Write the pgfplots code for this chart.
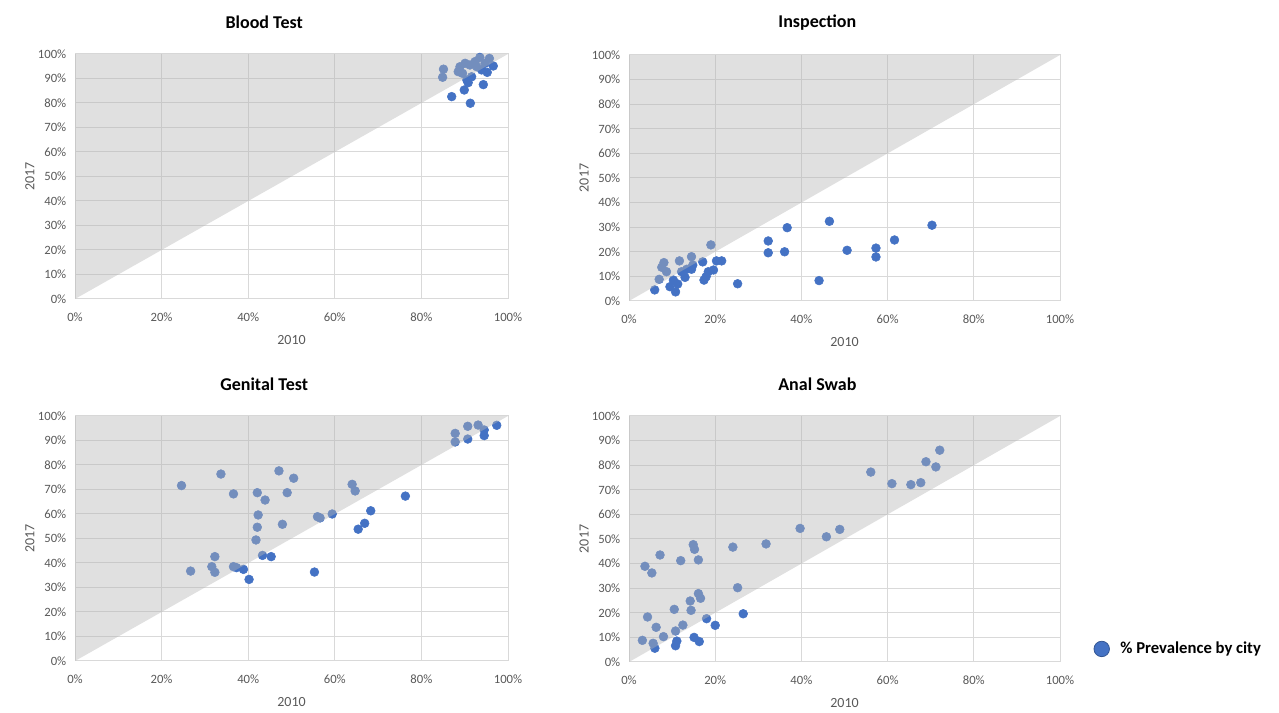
\documentclass[border=0pt]{standalone}
\usepackage{pgfplots}
\pgfplotsset{compat=1.18}
\usepackage{pgfplotstable}
\usepackage{fontspec}
\setmainfont{Carlito}
\definecolor{ptblue}{HTML}{4472C4}
\definecolor{shade}{RGB}{181,181,181}
\definecolor{gridc}{HTML}{D9D9D9}
\definecolor{txt}{HTML}{595959}

\pgfplotstableread{
x y
85.1 93.8
84.9 90.5
87.0 82.6
89.9 85.3
91.3 79.9
94.3 87.5
88.9 94.8
90.1 96.2
91.2 95.5
92.4 96.9
93.5 98.6
94.7 96.2
95.7 98.2
96.6 95.1
95.2 92.5
93.9 93.5
91.6 90.7
90.5 89.4
89.5 92.1
90.8 88.3
88.5 92.8
92.8 94.8
}\dataA

\pgfplotstableread{
x y
5.96 4.5
7.0 8.8
7.6 13.7
8.1 15.6
8.7 11.9
9.5 5.8
10.3 8.5
10.8 3.7
11.3 6.9
11.7 16.3
12.2 11.9
13.0 9.6
13.4 12.9
14.5 18.0
14.5 12.9
14.8 14.6
17.1 15.9
17.4 8.5
17.9 9.9
18.4 11.9
19.0 22.8
19.6 12.6
20.3 16.3
21.5 16.3
25.2 7.0
32.3 24.4
32.3 19.6
36.1 20.0
36.7 29.8
44.1 8.3
46.5 32.4
50.6 20.6
57.3 21.5
57.3 17.9
61.6 24.8
70.3 30.8
}\dataB

\pgfplotstableread{
x y
24.6 71.6
26.7 36.7
31.6 38.5
32.3 36.2
32.3 42.6
33.7 76.3
36.6 68.2
36.6 38.5
37.3 38.1
38.9 37.4
40.2 33.3
41.8 49.4
42.1 54.6
42.3 59.6
42.1 68.7
43.3 43.1
43.9 65.7
45.3 42.6
47.1 77.6
47.9 55.8
49.0 68.7
50.5 74.6
55.3 36.3
56.0 58.9
56.6 58.4
59.4 60.0
64.0 72.1
64.7 69.4
65.4 53.8
66.9 56.2
68.3 61.3
76.3 67.3
87.8 92.9
87.8 89.4
90.7 95.8
90.7 90.6
93.1 96.3
94.5 94.3
94.5 92.0
97.4 96.2
}\dataC

\pgfplotstableread{
x y
3.1 8.8
5.6 7.6
6.0 5.6
4.3 18.3
3.7 38.9
5.3 36.2
6.3 14.1
7.2 43.5
8.0 10.3
10.5 21.4
10.8 12.6
11.1 8.5
10.8 6.6
12.0 41.2
12.5 15.0
14.2 24.8
14.4 21.0
14.9 47.7
15.2 45.8
15.1 10.0
16.3 8.3
16.1 41.5
16.1 27.8
16.6 25.9
18.0 17.6
20.0 14.9
24.1 46.7
25.2 30.2
26.5 19.6
31.8 48.0
39.7 54.3
45.8 50.9
48.9 53.9
56.1 77.2
61.0 72.5
65.4 72.1
67.7 72.9
68.9 81.4
71.2 79.3
72.1 86.1
}\dataD

\pgfplotsset{panel/.style={
  set layers,
  scale only axis, width=324.75pt, height=183.75pt,
  xmin=0, xmax=100, ymin=0, ymax=100,
  xtick={0,20,...,100}, ytick={0,10,...,100},
  grid=major, major grid style={draw=gridc, line width=0.75pt},
  axis line style={draw=gridc, line width=0.75pt},
  major tick length=0pt,
  /pgf/number format/assume math mode=true,
  xticklabel={\pgfmathprintnumber{\tick}\%},
  yticklabel={\pgfmathprintnumber{\tick}\%},
  tick label style={font=\fontsize{9.5}{11}\selectfont, text=txt},
  xticklabel style={yshift=-7pt},
  yticklabel style={xshift=-3pt},
  xlabel=2010, ylabel=2017,
  label style={font=\fontsize{10.5}{12}\selectfont, text=txt},
  xlabel style={at={(axis description cs:0.5,-0.167)}, anchor=center},
  ylabel style={at={(axis description cs:-0.104,0.5)}, anchor=center},
  title style={at={(axis description cs:0.437,1.098)}, anchor=center, font=\fontsize{13.5}{16}\selectfont\bfseries},
  anchor=south west,
}}
\pgfplotsset{pts/.style={only marks, mark=*, mark size=3.3pt, mark options={fill=ptblue, draw=ptblue}}}
\pgfplotsset{tri/.style={draw=none, fill=shade, fill opacity=0.42, forget plot, on layer=axis foreground}}

\begin{document}
\begin{tikzpicture}

\begin{axis}[panel, at={(56.25pt,309pt)}, title={Blood Test}]
\addplot[pts] table[x=x,y=y]{\dataA};
\addplot[tri] coordinates {(0,0) (0,100) (100,100) (0,0)};
\end{axis}

\begin{axis}[panel, at={(471.75pt,307.5pt)}, width=323.25pt, height=184.5pt, title={Inspection}]
\addplot[pts] table[x=x,y=y]{\dataB};
\addplot[tri] coordinates {(0,0) (0,100) (100,100) (0,0)};
\end{axis}

\begin{axis}[panel, at={(56.25pt,37.5pt)}, title={Genital Test}]
\addplot[pts] table[x=x,y=y]{\dataC};
\addplot[tri] coordinates {(0,0) (0,100) (100,100) (0,0)};
\end{axis}

\begin{axis}[panel, at={(471.75pt,36.75pt)}, width=323.25pt, height=184.5pt, title={Anal Swab},
  legend style={at={(axis description cs:1,0.053)}, anchor=west, xshift=22pt, draw=none, fill=none,
    font=\fontsize{12.5}{14}\selectfont\bfseries},
  legend image code/.code={\draw[fill=ptblue, draw=ptblue!75!black, line width=0.6pt] (0pt,0pt) circle (5.8pt); \path[draw=none, fill=none] (0pt,0pt) -- (12pt,0pt);}]
\addplot[pts] table[x=x,y=y]{\dataD};
\addlegendentry{\% Prevalence by city}
\addplot[tri] coordinates {(0,0) (0,100) (100,100) (0,0)};
\end{axis}

\path (0,0) rectangle (959.25pt,533.25pt);
\end{tikzpicture}
\end{document}
